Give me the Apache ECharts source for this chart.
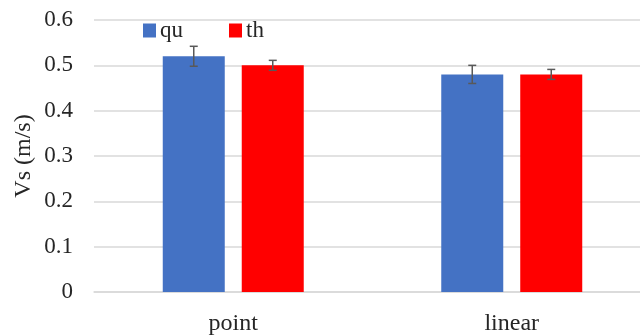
<!DOCTYPE html>
<html>
<head>
<meta charset="utf-8">
<script src="https://cdn.jsdelivr.net/npm/echarts@6/dist/echarts.min.js"></script>
<style>html,body{margin:0;padding:0;background:#fff}#c{width:640px;height:335px}</style>
</head>
<body>
<div id="c"></div>
<script>
var categories = ['point', 'linear'];
var seriesNames = ['qu', 'th'];
var quValues = [0.52, 0.48];
var thValues = [0.50, 0.48];
var quErrors = [0.022, 0.02];
var thErrors = [0.011, 0.011];
var yTicks = [0, 0.1, 0.2, 0.3, 0.4, 0.5, 0.6];

var colors = ['#4472C4', '#FF0000'];
var BAR_W = 62, BAR_GAP = 17;
var FONT = '"Liberation Serif", "Times New Roman", serif';

function errorSeries(values, errs, idx) {
  var data = values.map(function (v, i) { return [i, v, errs[i]]; });
  var offset = (idx === 0 ? -1 : 1) * (BAR_W + BAR_GAP) / 2;
  return {
    type: 'custom',
    name: seriesNames[idx] + ' err',
    data: data,
    z: 10,
    silent: true,
    renderItem: function (params, api) {
      var x = api.value(0), v = api.value(1), e = api.value(2);
      var hi = api.coord([x, v + e]);
      var lo = api.coord([x, v - e]);
      var cx = hi[0] + offset;
      var cap = 4;
      var st = { stroke: '#595959', lineWidth: 1.5 };
      return {
        type: 'group',
        children: [
          { type: 'line', shape: { x1: cx, y1: hi[1], x2: cx, y2: lo[1] }, style: st },
          { type: 'line', shape: { x1: cx - cap, y1: hi[1], x2: cx + cap, y2: hi[1] }, style: st },
          { type: 'line', shape: { x1: cx - cap, y1: lo[1], x2: cx + cap, y2: lo[1] }, style: st }
        ]
      };
    }
  };
}

var chart = echarts.init(document.getElementById('c'));
chart.setOption({
  animation: false,
  backgroundColor: '#fff',
  textStyle: { fontFamily: FONT },
  legend: {
    data: seriesNames,
    left: 138, top: 14,
    itemWidth: 13, itemHeight: 14,
    itemGap: 46,
    icon: 'rect',
    textStyle: { fontFamily: FONT, fontSize: 23, color: '#262626', padding: [0, 0, 0, -1] }
  },
  grid: { left: 94, width: 557, top: 20, height: 272, containLabel: false, outerBoundsMode: 'none' },
  xAxis: {
    type: 'category',
    data: categories,
    axisLine: { show: true, lineStyle: { color: '#d9d9d9', width: 1.5 } },
    axisTick: { show: false },
    axisLabel: { fontFamily: FONT, fontSize: 24, color: '#262626', margin: 20 }
  },
  yAxis: {
    type: 'value',
    min: 0, max: 0.6, interval: 0.1,
    name: 'Vs (m/s)',
    nameLocation: 'middle',
    nameGap: 58,
    nameMoveOverlap: false,
    nameTextStyle: { fontFamily: FONT, fontSize: 24, color: '#262626' },
    axisLine: { show: false },
    axisTick: { show: false },
    splitLine: { lineStyle: { color: '#d9d9d9', width: 1.5 } },
    axisLabel: {
      fontFamily: FONT, fontSize: 23, color: '#262626', margin: 21,
      formatter: function (v) { var t = yTicks.filter(function (k) { return Math.abs(k - v) < 1e-9; })[0]; return t === undefined ? '' : String(t); }
    }
  },
  series: [
    { type: 'bar', name: seriesNames[0], data: quValues, barWidth: BAR_W, barGap: (BAR_GAP / BAR_W * 100).toFixed(1) + '%', itemStyle: { color: colors[0] } },
    { type: 'bar', name: seriesNames[1], data: thValues, barWidth: BAR_W, itemStyle: { color: colors[1] } },
    errorSeries(quValues, quErrors, 0),
    errorSeries(thValues, thErrors, 1)
  ]
});
</script>
</body>
</html>
